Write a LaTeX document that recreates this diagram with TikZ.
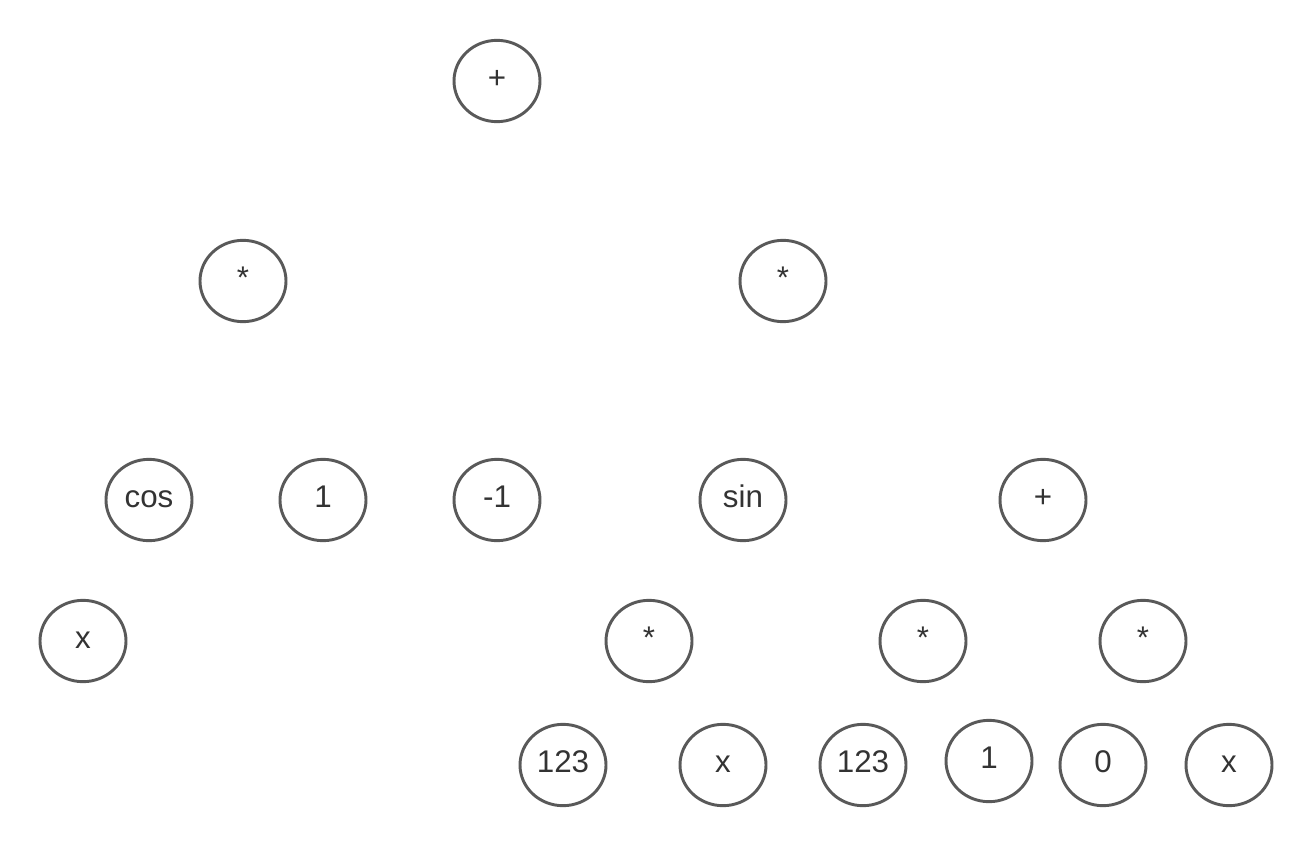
\documentclass[tikz,border=0pt]{standalone}
\usepackage{fontspec}
\setmainfont{Liberation Sans}
\usepackage{tikz}
\usetikzlibrary{shapes}

\definecolor{ringgray}{RGB}{89,89,89}
\definecolor{textgray}{RGB}{51,51,51}

\begin{document}
\begin{tikzpicture}[x=0.75pt,y=0.75pt,yscale=-1,xscale=1,
  term/.style={ellipse,draw=ringgray,line width=2.2pt,inner sep=0pt,minimum width=64.5pt,minimum height=61pt,text height=10.5pt,text depth=0pt,text=textgray,font=\fontsize{23.5}{28}\selectfont}]
\useasboundingbox (0,0) rectangle (1313,846);
\draw (497,81) node [term] (root) {+};
\draw (243,281) node [term] (mulA) {*};
\draw (783,281) node [term] (mulB) {*};
\draw (149,500) node [term] (cosA) {cos};
\draw (323,500) node [term] (oneA) {1};
\draw (497,500) node [term] (negA) {-1};
\draw (743,500) node [term] (sinA) {sin};
\draw (1043,500) node [term] (plusB) {+};
\draw (83,641) node [term] (xA) {x};
\draw (649,641) node [term] (mulC) {*};
\draw (923,641) node [term] (mulD) {*};
\draw (1143,641) node [term] (mulE) {*};
\draw (563,765) node [term] (numA) {123};
\draw (723,765) node [term] (xB) {x};
\draw (863,765) node [term] (numB) {123};
\draw (989,761) node [term] (oneB) {1};
\draw (1103,765) node [term] (zeroA) {0};
\draw (1229,765) node [term] (xC) {x};
\end{tikzpicture}
\end{document}
